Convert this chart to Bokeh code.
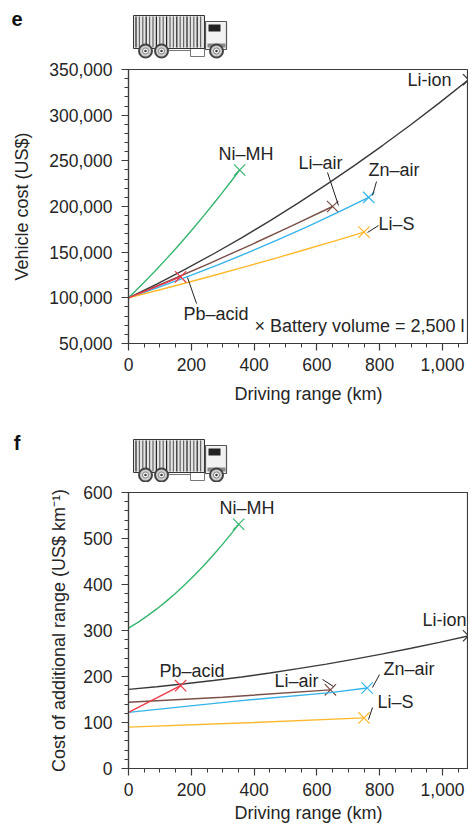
from bokeh.plotting import figure
from bokeh.layouts import column
from bokeh.models import Range1d, FixedTicker, NumeralTickFormatter, Title
from bokeh.core.properties import value
from bokeh.embed import file_html
from bokeh.resources import INLINE
import numpy as np

FONT = "Liberation Sans"
AX = "#3c3c3c"
TXT = "#262626"
C = {"Li-ion": "#3a3a3a", "Ni-MH": "#35b56e", "Li-air": "#7a5048", "Zn-air": "#35b4ea",
     "Li-S": "#fdb92e", "Pb-acid": "#ee3b4a"}

x_ticks = [0, 200, 400, 600, 800, 1000]
x_minor = list(range(0, 1100, 50))

# Panel e: vehicle cost (US$)
e_liion_x = [0, 90, 180, 270, 360, 450, 540, 630, 720, 810, 900, 990, 1083]
e_liion_y = [100000, 115100, 131100, 148000, 165700, 184200, 203700, 223900, 245000, 267000, 289800, 313500, 338800]
e_nimh_x = [0, 30, 60, 90, 120, 150, 180, 210, 240, 270, 300, 330, 354]
e_nimh_y = [100000, 110100, 120500, 131300, 142400, 153800, 165500, 177600, 190000, 202700, 215700, 229000, 240000]
e_liair_x = [0, 130, 260, 390, 520, 650]
e_liair_y = [100000, 118700, 138100, 158100, 178700, 200000]
e_znair_x = [0, 95, 190, 285, 380, 475, 570, 665, 765]
e_znair_y = [100000, 111400, 123400, 136100, 149400, 163400, 178000, 193300, 210000]
e_lis_x = [0, 94, 188, 282, 376, 470, 564, 658, 750]
e_lis_y = [100000, 108300, 116800, 125500, 134400, 143500, 152900, 162400, 172000]
e_pb_x = [0, 166]
e_pb_y = [100000, 123000]
e_y_ticks = [50000, 100000, 150000, 200000, 250000, 300000, 350000]
e_y_minor = list(range(50000, 360000, 10000))

# Panel f: cost of additional range (US$/km)
f_liion_x = [0, 90, 180, 270, 360, 450, 540, 630, 720, 810, 900, 990, 1083]
f_liion_y = [172, 177.7, 184.1, 191.2, 199, 207.6, 217, 227, 237.7, 249.2, 261.4, 274.3, 288.5]
f_nimh_x = [0, 30, 60, 90, 120, 150, 180, 210, 240, 270, 300, 330, 351]
f_nimh_y = [305, 317.7, 331.7, 346.9, 363.3, 381, 399.8, 420, 441.3, 464, 487.7, 512.8, 531]
f_liair_x = [0, 300, 643]
f_liair_y = [144, 155, 171]
f_znair_x = [0, 335, 643, 760]
f_znair_y = [122, 146, 165, 175]
f_lis_x = [0, 400, 750]
f_lis_y = [90, 100, 110]
f_pb_x = [0, 166]
f_pb_y = [122, 180]
f_y_ticks = [0, 100, 200, 300, 400, 500, 600]
f_y_minor = list(range(0, 620, 20))


def truck_panel(h, y0, letter, letter_y, letter_standoff, dy):
    p = figure(width=468, height=h, x_range=Range1d(128, 468), y_range=Range1d(y0 + h, y0),
               x_axis_location=None, toolbar_location=None,
               output_backend="svg", min_border_left=128, min_border_right=0,
               min_border_top=0, min_border_bottom=0, outline_line_color=None)
    p.grid.visible = False
    ax = p.yaxis[0]
    ax.ticker = FixedTicker(ticks=[letter_y], minor_ticks=[])
    ax.major_label_overrides = {letter_y: letter}
    ax.axis_line_color = None
    ax.major_tick_line_color = None
    ax.minor_tick_line_color = None
    ax.major_label_standoff = letter_standoff
    ax.major_label_text_font = FONT
    ax.major_label_text_font_size = "20px"
    ax.major_label_text_font_style = "bold"
    ax.major_label_text_color = "#111111"
    # chassis and box
    p.quad(left=[168, 190], right=[190, 204], top=[45 + dy, 45 + dy], bottom=[50 + dy, 56 + dy],
           fill_color="white", line_color="#777777", line_width=1)
    p.quad(left=[133], right=[204], top=[15 + dy], bottom=[48 + dy], fill_color="#e4e4e4",
           line_color="#333333", line_width=1)
    xs = np.arange(135.5, 203, 3.4)
    cols = ["#666666" if i % 3 else "#222222" for i in range(len(xs))]
    p.segment(xs, [16 + dy] * len(xs), xs, [47 + dy] * len(xs), line_color=cols, line_width=1.2)
    # cab
    p.quad(left=[205], right=[226], top=[21 + dy], bottom=[49 + dy], fill_color="#f2f2f2",
           line_color="#555555", line_width=1.2)
    p.quad(left=[208], right=[220], top=[24 + dy], bottom=[31 + dy], fill_color="#222222", line_color=None)
    p.quad(left=[207], right=[225], top=[43 + dy], bottom=[47 + dy], fill_color="#888888", line_color=None)
    wx = [145, 161, 216]
    wy = [50.5 + dy] * 3
    p.scatter(wx, wy, size=15, marker="circle", fill_color="#444444", line_color=None)
    p.scatter(wx, wy, size=11, marker="circle", fill_color="#cfcfcf", line_color=None)
    p.scatter(wx, wy, size=6, marker="circle", fill_color="white", line_color="#666666", line_width=0.8)
    p.scatter(wx, wy, size=2.5, marker="circle", fill_color="#333333", line_color=None)
    return p


def main_panel(h, top_border, frame_h, y_start, y_end, y_ticks, y_minor, ylabel, standoff, xstandoff):
    p = figure(width=468, height=h, x_range=Range1d(0, 340 / 0.314), y_range=Range1d(y_start, y_end),
               toolbar_location=None, output_backend="svg", min_border_left=128, min_border_right=0,
               min_border_top=top_border, min_border_bottom=h - top_border - frame_h,
               outline_line_color=AX, outline_line_width=1.2)
    p.grid.visible = False
    p.xaxis.ticker = FixedTicker(ticks=x_ticks, minor_ticks=x_minor)
    p.yaxis.ticker = FixedTicker(ticks=y_ticks, minor_ticks=y_minor)
    p.yaxis.formatter = NumeralTickFormatter(format="0,0")
    p.xaxis.formatter = NumeralTickFormatter(format="0,0")
    p.yaxis.axis_label = ylabel
    for ax in (p.xaxis[0], p.yaxis[0]):
        ax.axis_line_color = AX
        ax.axis_line_width = 1.2
        ax.major_tick_line_color = AX
        ax.minor_tick_line_color = AX
        ax.major_tick_line_width = 1.2
        ax.minor_tick_line_width = 1
        ax.major_tick_out = 7
        ax.major_tick_in = 0
        ax.minor_tick_out = 4
        ax.minor_tick_in = 0
        ax.major_label_text_font = FONT
        ax.major_label_text_font_size = "17.5px"
        ax.major_label_text_color = TXT
        ax.axis_label_text_font = FONT
        ax.axis_label_text_font_size = "18px"
        ax.axis_label_text_font_style = "normal"
        ax.axis_label_text_color = TXT
    p.yaxis[0].axis_label_standoff = standoff
    p.yaxis[0].major_label_standoff = 9
    p.xaxis[0].major_label_standoff = 7
    p.add_layout(Title(text="Driving range (km)", align="left", offset=106, standoff=xstandoff,
                       text_font=FONT, text_font_size="18px", text_font_style="normal",
                       text_color=TXT), "below")
    return p


def draw(p, names, xs, ys, fx, fy, labels, leaders):
    for n, x, y in zip(names, xs, ys):
        p.line(x, y, line_color=C[n], line_width=1.4)
        p.scatter([x[-1]], [y[-1]], marker="x", size=16, line_color=C[n], line_width=1.2)
    for (a, b, c, d) in leaders:
        p.line([fx(a), fx(c)], [fy(b), fy(d)], line_color="#222222", line_width=1)
    for t, px, py in labels:
        p.text([fx(px)], [fy(py)], text=[t], text_font=value(FONT), text_font_size="18px",
               text_color=TXT, text_baseline="middle", text_align="left")


names = ["Li-ion", "Ni-MH", "Li-air", "Zn-air", "Li-S", "Pb-acid"]

pe = main_panel(353, 10, 274, 50000, 350000, e_y_ticks, e_y_minor, "Vehicle cost (US$)", 14, 16)
fx = lambda px: (px - 128) / 0.314
fye = lambda py: 50000 + (343 - py) / 274 * 300000
draw(pe, names,
     [e_liion_x, e_nimh_x, e_liair_x, e_znair_x, e_lis_x, e_pb_x],
     [e_liion_y, e_nimh_y, e_liair_y, e_znair_y, e_lis_y, e_pb_y],
     fx, fye,
     [("Li-ion", 407, 79), ("Ni\u2013MH", 218, 153), ("Li\u2013air", 298, 162), ("Zn\u2013air", 368, 169),
      ("Li\u2013S", 378, 223), ("Pb\u2013acid", 183, 313), ("\u00d7 Battery volume = 2,500 l", 254, 325)],
     [(327, 172, 338, 205), (376, 181, 372, 195), (378, 225, 367, 232), (187, 277, 196, 303)])

pf = main_panel(344, 10, 276, 0, 600, f_y_ticks, f_y_minor, "Cost of additional range (US$ km\u207b\u00b9)", 11, 5)
fyf = lambda py: (768 - py) / 276 * 600
draw(pf, names,
     [f_liion_x, f_nimh_x, f_liair_x, f_znair_x, f_lis_x, f_pb_x],
     [f_liion_y, f_nimh_y, f_liair_y, f_znair_y, f_lis_y, f_pb_y],
     fx, fyf,
     [("Li-ion", 422, 619), ("Ni\u2013MH", 219, 507), ("Pb\u2013acid", 159, 670), ("Li\u2013air", 274, 680),
      ("Zn\u2013air", 383, 668), ("Li\u2013S", 377, 701)],
     [(322, 679, 333, 686), (379, 674, 372, 687), (372, 707, 368, 719)])

te = truck_panel(59, 0, "e", 18, 100, 0)
tf = truck_panel(70, 412, "f", 442, 102, 424)

root = column(te, pe, tf, pf, spacing=0)
open("out.html", "w").write(file_html(root, INLINE))
